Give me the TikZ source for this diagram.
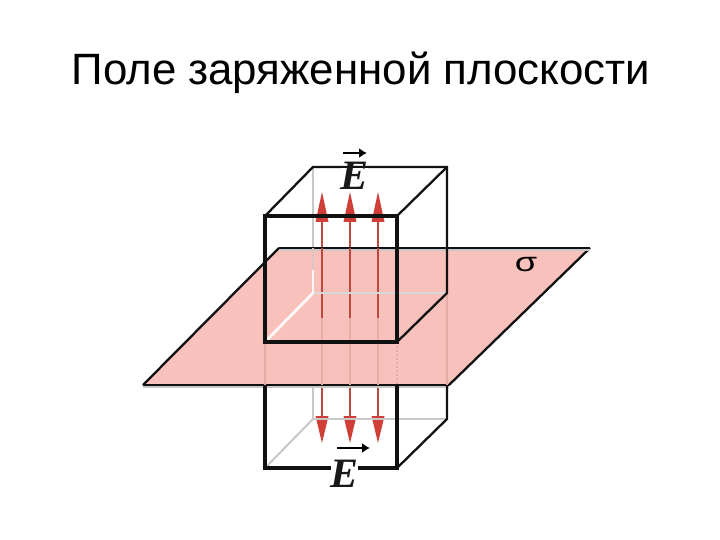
\documentclass[tikz,border=0pt]{standalone}
\usepackage{fontspec}
\setmainfont{Liberation Sans}
\newfontfamily\serifE{Liberation Serif}
\definecolor{planefill}{HTML}{F9C1BB}
\definecolor{arrowred}{HTML}{CF3F38}
\definecolor{arrowline}{HTML}{BC4A3C}
\definecolor{edgedark}{HTML}{111111}
\definecolor{edgegray}{HTML}{C8C8C8}
\definecolor{fadeline}{HTML}{E8ACA6}
\usetikzlibrary{arrows.meta}
\tikzset{
  solidedge/.style={draw=edgedark,line width=3.4pt},
  thinedge/.style={draw=edgedark,line width=2.3pt},
  hiddenedge/.style={draw=edgegray,line width=2pt},
  whiteedge/.style={draw=white!85!planefill,line width=2.4pt},
  fadeedge/.style={draw=fadeline,line width=2pt},
  fieldline/.style={draw=arrowline,line width=2.2pt},
  headshape/.style={fill=arrowred,draw=none},
  vecarrow/.style={draw=black,line width=2pt,-{Latex[length=8pt,width=10pt]}},
  vecletter/.style={font=\serifE\bfseries\itshape\fontsize{42}{42}\selectfont,inner sep=0pt,text=black!90},
}
\begin{document}
\begin{tikzpicture}[x=1bp,y=-1bp]
\useasboundingbox (0,0) rectangle (720,540);
\fill[white] (0,0) rectangle (720,540);
\node[anchor=base,inner sep=0pt,font=\fontsize{44}{44}\selectfont] (title) at (361,85) {Поле заряженной плоскости};
% edges behind the plane
\draw[hiddenedge] (313,167) -- (313,248);
\draw[hiddenedge] (313,419) -- (313,385);
% arrows above and below the plane
\foreach \x in {322,350,378}{
  \draw[fieldline] (\x,220) -- (\x,248);
  \fill[headshape] (\x,192) -- (\x+6.5,222) -- (\x-6.5,222) -- cycle;
  \draw[fieldline] (\x,385) -- (\x,420);
  \fill[headshape] (\x,443) -- (\x+6.5,416) -- (\x-6.5,416) -- cycle;
}
% plane
\fill[planefill] (279,248) -- (590,248) -- (449,385) -- (143,385) -- cycle;
\draw[thinedge] (279,248) -- (143,385) (590,248) -- (449,385);
\draw[draw=edgegray,line width=1.5pt] (279,250) -- (590,250);
\draw[thinedge] (279,248) -- (590,248);
\draw[draw=edgegray,line width=1.5pt] (143,387) -- (449,387);
\draw[thinedge] (143,385) -- (449,385);
% arrows seen through the plane
\foreach \x in {322,350,378}{
  \draw[fieldline] (\x,248) -- (\x,318);
  \draw[fadeedge] (\x,318) -- (\x,385);
}
% faded edges
\draw[fadeedge] (265,342) -- (265,385);
\draw[fadeedge,dotted] (397,342) -- (397,385);
\draw[fadeedge] (447,293) -- (447,385);
\draw[hiddenedge,draw=edgegray!60!planefill] (313,248) -- (313,270);
% back edges on the plane
\draw[hiddenedge,draw=edgegray!70!white] (313,293) -- (447,293);
\draw[whiteedge] (313,293) -- (313,270);
\draw[whiteedge,line width=3pt] (265,342) -- (313,293);
% upper box
\draw[thinedge] (265,216) -- (313,167) -- (447,167) -- (447,293) -- (397,342);
\draw[thinedge] (397,216) -- (447,167);
\draw[solidedge] (265,216) rectangle (397,342);
% lower box
\draw[hiddenedge] (265,468) -- (313,419) -- (447,419);
\draw[thinedge] (397,468) -- (447,419) -- (447,385);
\draw[solidedge] (265,385) -- (265,468) -- (397,468) -- (397,385);
% labels
\fill[white] (341,168) rectangle (368,191);
\node[vecletter] (etop) at (354,176) {E};
\draw[vecarrow] (343,153) -- (367,153);
\fill[white] (331,461) rectangle (358,488);
\node[vecletter] (ebot) at (344,474) {E};
\draw[vecarrow] (337,448) -- (370,448);
\node[anchor=base,inner sep=0pt,xscale=1.35,font=\fontsize{27}{27}\selectfont] (sigma) at (526,272) {σ};
\end{tikzpicture}
\end{document}
